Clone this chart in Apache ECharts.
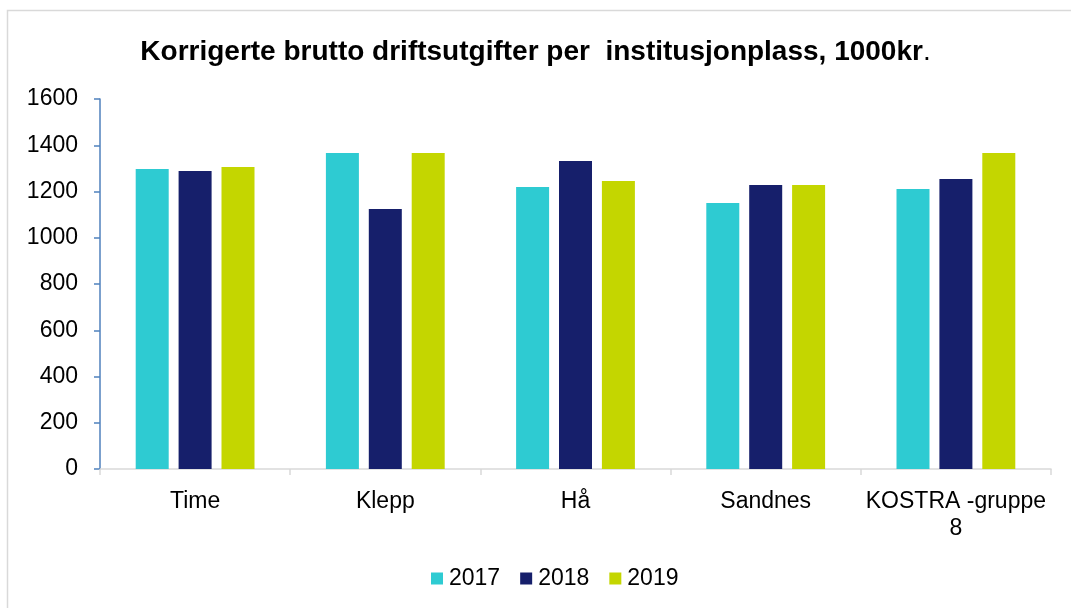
<!DOCTYPE html>
<html><head><meta charset="utf-8">
<script src="https://cdn.jsdelivr.net/npm/echarts@6/dist/echarts.min.js"></script>
<style>html,body{margin:0;padding:0;background:#fff}#c{width:1071px;height:608px}</style>
</head><body><div id="c"></div>
<script>
const categories = ['Time', 'Klepp', 'Hå', 'Sandnes', 'KOSTRA -gruppe\n8'];
const years = ['2017', '2018', '2019'];
const v2017 = [1297, 1366, 1219, 1150, 1211];
const v2018 = [1289, 1124, 1332, 1228, 1254];
const v2019 = [1306, 1366, 1245, 1228, 1366];
const yTicks = [0, 200, 400, 600, 800, 1000, 1200, 1400, 1600];
const colors = ['#2ECBD2', '#161F6B', '#C4D600'];
const seriesValues = [v2017, v2018, v2019];

const FONT = 'Liberation Sans, Arial, sans-serif';
const chart = echarts.init(document.getElementById('c'), null, {renderer: 'canvas'});
chart.setOption({
  animation: false,
  textStyle: {fontFamily: FONT},
  graphic: [{type: 'rect', shape: {x: 7.5, y: 10.5, width: 1080, height: 620}, style: {fill: 'none', stroke: '#d9d9d9', lineWidth: 1.5}, silent: true}],
  title: {
    text: '{b|Korrigerte brutto driftsutgifter per  institusjonplass, 1000kr}{n|.}',
    left: 'center', top: 33,
    textStyle: {
      rich: {
        b: {fontSize: 28, fontWeight: 'bold', color: '#000', fontFamily: FONT},
        n: {fontSize: 28, fontWeight: 'normal', color: '#000', fontFamily: FONT}
      }
    }
  },
  legend: {
    data: years, bottom: 13, left: 426, itemWidth: 12, itemHeight: 12, itemGap: 20, icon: 'rect',
    textStyle: {fontSize: 23, color: '#000', padding: [0, 0, 0, 1]}
  },
  grid: {left: 100, right: 20, top: 99, bottom: 139, containLabel: false},
  xAxis: {
    type: 'category', data: categories,
    axisLine: {lineStyle: {color: '#d9d9d9', width: 1.5}},
    axisTick: {show: true, length: 6, lineStyle: {color: '#d9d9d9', width: 1.5}},
    axisLabel: {fontSize: 23, color: '#000', margin: 19, lineHeight: 27, interval: 0}
  },
  yAxis: {
    type: 'value', min: yTicks[0], max: yTicks[yTicks.length - 1], interval: 200,
    axisLine: {show: true, lineStyle: {color: '#4f81bd', width: 1.5}},
    axisTick: {show: true, length: 6, lineStyle: {color: '#4f81bd', width: 1.5}},
    axisLabel: {fontSize: 23, color: '#000', margin: 22, formatter: v => String(v)},
    splitLine: {show: false}
  },
  series: years.map((y, i) => ({
    name: y, type: 'bar', data: seriesValues[i], barWidth: 33, barGap: '30%',
    itemStyle: {color: colors[i]}
  }))
});
</script></body></html>
